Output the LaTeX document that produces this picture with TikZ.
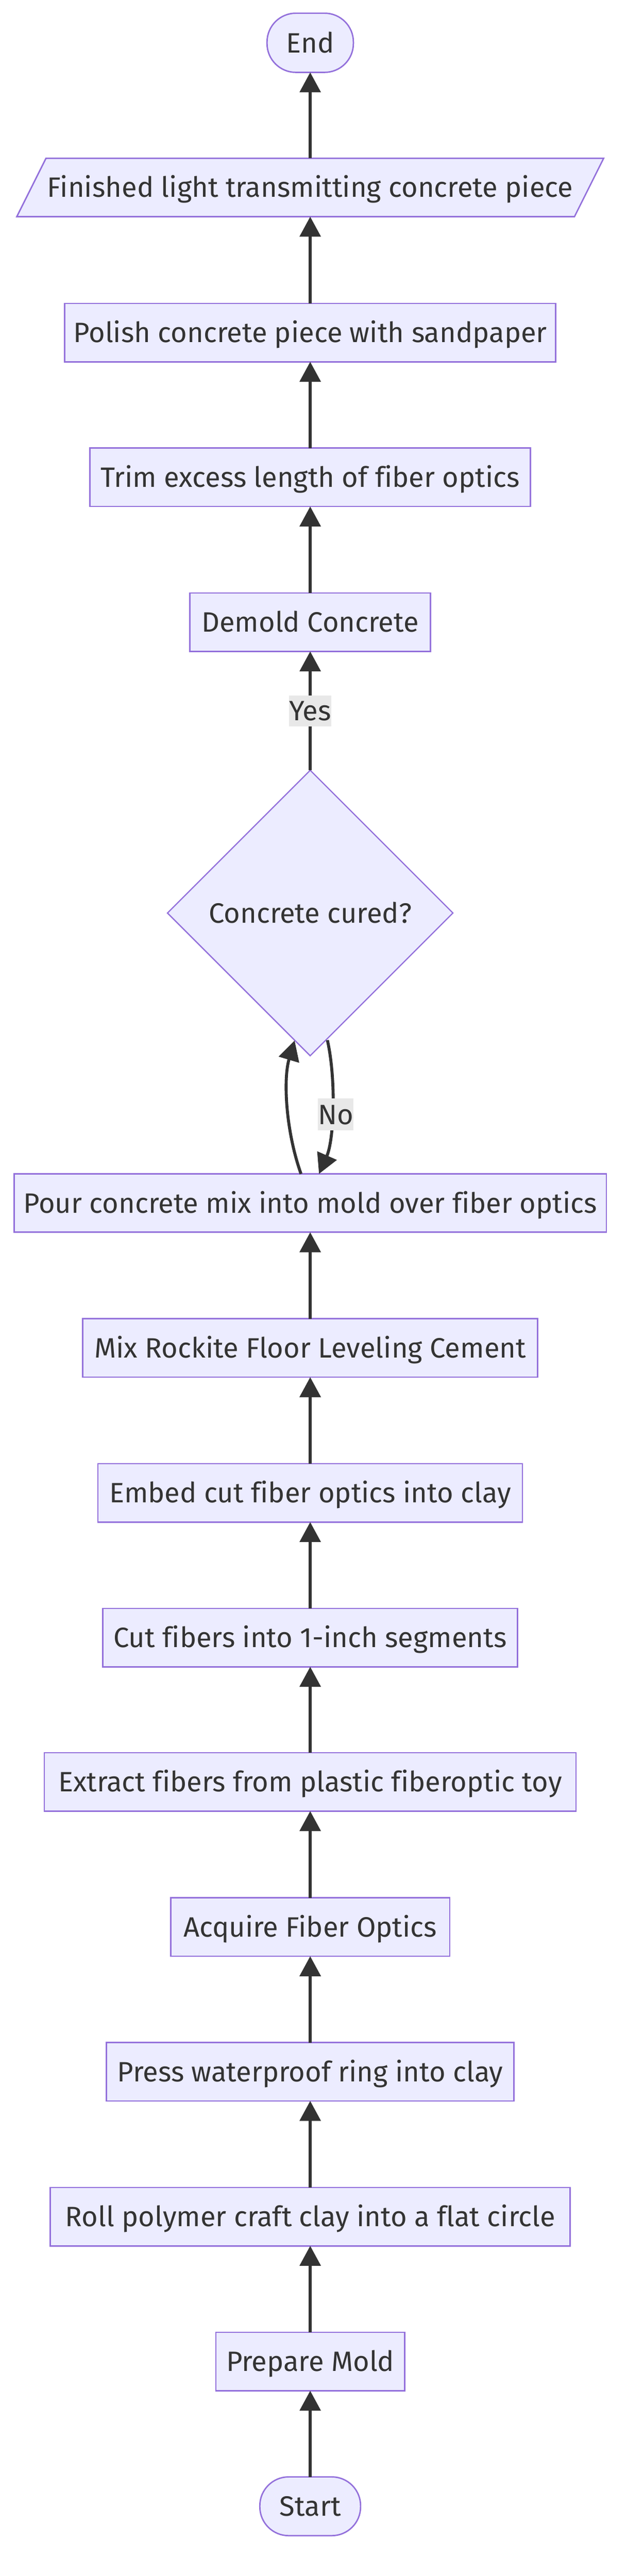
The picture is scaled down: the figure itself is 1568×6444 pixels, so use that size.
\documentclass[tikz,border=0pt]{standalone}
\usepackage{fontspec}
\setmainfont{Fira Sans}[Ligatures=NoCommon]
\usetikzlibrary{arrows.meta,shapes.geometric,calc}
\definecolor{nodefill}{HTML}{ECECFF}
\definecolor{nodeline}{HTML}{9370DB}
\definecolor{ink}{HTML}{333333}
\definecolor{lblbg}{HTML}{E8E8E8}
\begin{document}
\begin{tikzpicture}[x=1pt,y=-1pt,
  every node/.style={inner sep=0pt,outer sep=0pt,text=ink,
    font=\fontsize{70}{84}\selectfont,text height=49pt,text depth=0pt},
  stepbox/.style={draw=nodeline,fill=nodefill,line width=3.5pt,minimum height=146pt},
  termbox/.style={stepbox,rounded corners=72pt},
  decision/.style={diamond,aspect=1,draw=nodeline,fill=nodefill,line width=3pt,
    minimum width=714pt,minimum height=714pt},
  edgelbl/.style={fill=lblbg},
  flow/.style={draw=ink,line width=7.5pt,-{Triangle[length=50pt,width=52pt]}}
]
\useasboundingbox (0,0) rectangle (1568,6444);

% nodes
\node[termbox,minimum width=216pt,minimum height=148pt] (end) at (776,107) {End};
\filldraw[draw=nodeline,fill=nodefill,line width=3.5pt]
  (115,396) -- (1510,396) -- (1437,542) -- (42,542) -- cycle;
\node[minimum width=1395pt,minimum height=146pt] (fin) at (776,469) {Finished light transmitting concrete piece};
\node[stepbox,minimum width=1228pt] (polish) at (776,832) {Polish concrete piece with sandpaper};
\node[stepbox,minimum width=1102pt] (trim) at (776,1194) {Trim excess length of fiber optics};
\node[stepbox,minimum width=602pt] (demold) at (776,1556.5) {Demold Concrete};
\node[decision] (dia) at (776,2284) {Concrete cured?};
\node[stepbox,minimum width=1482pt] (pour) at (776,3009.5) {Pour concrete mix into mold over fiber optics};
\node[stepbox,minimum width=1138pt] (mix) at (776,3372) {Mix Rockite Floor Leveling Cement};
\node[stepbox,minimum width=1062pt] (embed) at (776,3734.5) {Embed cut fiber optics into clay};
\node[stepbox,minimum width=1038pt] (cut) at (776,4096.5) {Cut fibers into 1-inch segments};
\node[stepbox,minimum width=1330pt] (extract) at (776,4457.5) {Extract fibers from plastic fiberoptic toy};
\node[stepbox,minimum width=698pt] (acquire) at (776,4820.5) {Acquire Fiber Optics};
\node[stepbox,minimum width=1019pt] (press) at (776,5182.5) {Press waterproof ring into clay};
\node[stepbox,minimum width=1300pt] (roll) at (776,5545) {Roll polymer craft clay into a flat circle};
\node[stepbox,minimum width=472pt] (prep) at (776,5907.5) {Prepare Mold};
\node[termbox,minimum width=252pt,minimum height=147pt] (start) at (776,6269.5) {Start};

% connectors
\draw[flow] (start) -- (prep);
\draw[flow] (prep) -- (roll);
\draw[flow] (roll) -- (press);
\draw[flow] (press) -- (acquire);
\draw[flow] (acquire) -- (extract);
\draw[flow] (extract) -- (cut);
\draw[flow] (cut) -- (embed);
\draw[flow] (embed) -- (mix);
\draw[flow] (mix) -- (pour);
\draw[flow] ([xshift=-23pt]pour.north) .. controls (715,2830) and (708,2700) .. ([xshift=-39pt,yshift=-319pt]dia.center);
\draw[flow] ([xshift=43pt,yshift=-318pt]dia.center) .. controls (841,2700) and (836,2850) .. ([xshift=22pt]pour.north);
\node[edgelbl,minimum width=82pt,minimum height=80pt] (nolbl) at (840,2788) {No};
\draw[flow] (dia.north) -- node[edgelbl,minimum width=97pt,minimum height=77pt] (yeslbl) {Yes} (demold.south);
\draw[flow] (demold) -- (trim);
\draw[flow] (trim) -- (polish);
\draw[flow] (polish) -- (fin);
\draw[flow] (fin) -- (end);
\end{tikzpicture}
\end{document}
